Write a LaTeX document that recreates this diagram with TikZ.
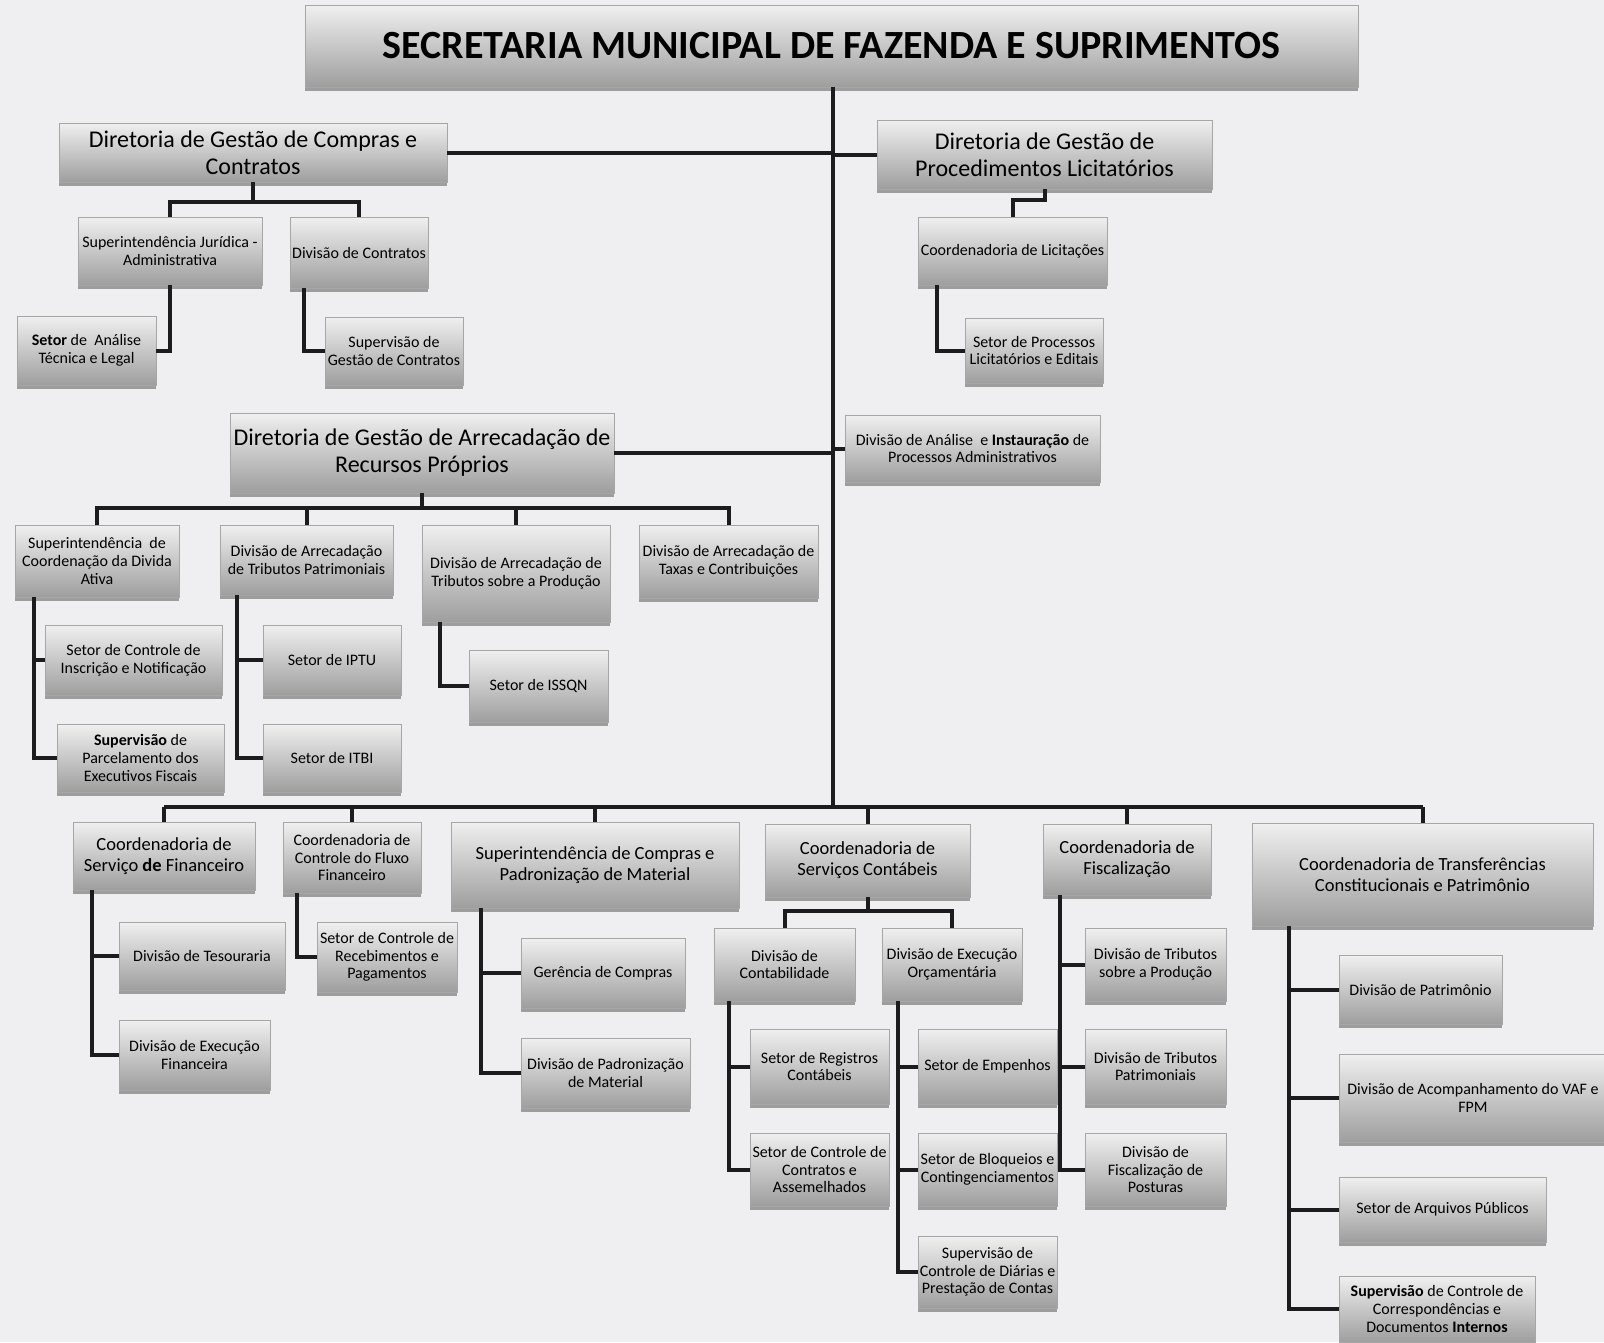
\documentclass[tikz,border=0pt]{standalone}
\usepackage{fontspec}
\setmainfont{Carlito}
\usetikzlibrary{calc,shadows}
\definecolor{paper}{RGB}{239,239,242}
\definecolor{wire}{RGB}{28,28,30}
\tikzset{
  orgbox/.style={rectangle, top color=white!94!black, bottom color=black!38, draw=black!35,
                 line width=0.6pt, align=center, inner sep=0pt,
                 drop shadow={shadow xshift=0pt, shadow yshift=-4pt, opacity=.5, fill=black!70}},
  titlebox/.style={orgbox, font=\fontsize{40}{44}\selectfont\bfseries},
  bigbox/.style={orgbox, font=\fontsize{24}{27}\selectfont},
  midbox/.style={orgbox, font=\fontsize{18.5}{21}\selectfont},
  smallbox/.style={orgbox, font=\fontsize{16}{17.7}\selectfont},
  link/.style={line width=4pt, wire},
}

\begin{document}
\begin{tikzpicture}[x=1pt, y=-1pt]
\useasboundingbox (0,0) rectangle (1604,1342);
\fill[paper] (0,0) rectangle (1604,1342);

% secretaria and trunk
\node[titlebox, minimum width=1053, minimum height=82] (sec) at (831.5,46) {SECRETARIA MUNICIPAL DE FAZENDA E SUPRIMENTOS};
\coordinate (bus) at (833,807);
\coordinate (busL) at (164,807);
\coordinate (busR) at (1423,807);

% upper branch
\node[bigbox, minimum width=388, minimum height=59] (dirCompras) at (253,152.5) {Diretoria de Gestão de Compras e\\Contratos};
\node[bigbox, minimum width=335, minimum height=69] (dirProc) at (1044.5,154.5) {Diretoria de Gestão de\\Procedimentos Licitatórios};
\node[smallbox, minimum width=184, minimum height=68] (supJur) at (170,251) {Superintendência Jurídica -\\Administrativa};
\node[smallbox, minimum width=138, minimum height=71] (divContr) at (359,252.5) {Divisão de Contratos};
\node[smallbox, minimum width=139, minimum height=69] (setorAnalise) at (86.5,350.5) {\textbf{Setor} de~ Análise\\Técnica e Legal};
\node[smallbox, minimum width=138, minimum height=68] (supGestao) at (394,351) {Supervisão de\\Gestão de Contratos};
\node[smallbox, minimum width=189, minimum height=68] (coordLic) at (1012.5,251) {Coordenadoria de Licitações};
\node[smallbox, minimum width=138, minimum height=65] (setorProc) at (1034,350.5) {Setor de Processos\\Licitatórios e Editais};
\node[smallbox, minimum width=255, minimum height=67] (divAnalise) at (972.5,448.5) {Divisão de Análise~ e \textbf{Instauração} de\\Processos Administrativos};

% arrecadacao
\node[bigbox, minimum width=384, minimum height=80] (dirArrec) at (422,453) {Diretoria de Gestão de Arrecadação de\\Recursos Próprios};
\node[smallbox, minimum width=164, minimum height=72] (supDivida) at (97,561) {Superintendência~ de\\Coordenação da Divida\\Ativa};
\node[smallbox, minimum width=173, minimum height=70] (divPatrim) at (306.5,560) {Divisão de Arrecadação\\de Tributos Patrimoniais};
\node[smallbox, minimum width=188, minimum height=97] (divProducao) at (516,573.5) {Divisão de Arrecadação de\\Tributos sobre a Produção};
\node[smallbox, minimum width=179, minimum height=73] (divTaxas) at (728.5,561.5) {Divisão de Arrecadação de\\Taxas e Contribuições};
\node[smallbox, minimum width=177, minimum height=70] (setorInscr) at (133.5,660) {Setor de Controle de\\Inscrição e Notificação};
\node[smallbox, minimum width=167, minimum height=68] (supParcel) at (140.5,758) {\textbf{Supervisão} de\\Parcelamento dos\\Executivos Fiscais};
\node[smallbox, minimum width=138, minimum height=70] (setorIPTU) at (332,660) {Setor de IPTU};
\node[smallbox, minimum width=138, minimum height=68] (setorITBI) at (332,758) {Setor de ITBI};
\node[smallbox, minimum width=139, minimum height=72] (setorISSQN) at (538.5,686) {Setor de ISSQN};

% lower row
\node[midbox, minimum width=182, minimum height=68] (coordFin) at (164,856) {Coordenadoria de\\Serviço \textbf{de} Financeiro};
\node[smallbox, minimum width=138, minimum height=71] (coordFluxo) at (352,857.5) {Coordenadoria de\\Controle do Fluxo\\Financeiro};
\node[midbox, minimum width=288, minimum height=86] (supCompras) at (595,865) {Superintendência de Compras e\\Padronização de Material};
\node[midbox, minimum width=205, minimum height=73] (coordCont) at (867.5,860.5) {Coordenadoria de\\Serviços Contábeis};
\node[midbox, minimum width=168, minimum height=71] (coordFisc) at (1127,859.5) {Coordenadoria de\\Fiscalização};
\node[midbox, minimum width=341, minimum height=103] (coordTransf) at (1422.5,874.5) {Coordenadoria de Transferências\\Constitucionais e Patrimônio};

\node[smallbox, minimum width=166, minimum height=68] (divTesour) at (202,956) {Divisão de Tesouraria};
\node[smallbox, minimum width=151, minimum height=70] (divExecFin) at (194.5,1055) {Divisão de Execução\\Financeira};
\node[smallbox, minimum width=140, minimum height=70] (setorReceb) at (387,957) {Setor de Controle de\\Recebimentos e\\Pagamentos};
\node[smallbox, minimum width=164, minimum height=70] (gerCompras) at (603,973) {Gerência de Compras};
\node[smallbox, minimum width=169, minimum height=70] (divPadron) at (605.5,1073) {Divisão de Padronização\\de Material};

\node[smallbox, minimum width=141, minimum height=73] (divContab) at (784.5,964.5) {Divisão de\\Contabilidade};
\node[smallbox, minimum width=140, minimum height=73] (divExecOrc) at (952,964.5) {Divisão de Execução\\Orçamentária};
\node[smallbox, minimum width=139, minimum height=75] (setorRegistros) at (819.5,1066.5) {Setor de Registros\\Contábeis};
\node[smallbox, minimum width=139, minimum height=73] (setorContratos) at (819.5,1169.5) {Setor de Controle de\\Contratos e\\Assemelhados};
\node[smallbox, minimum width=139, minimum height=75] (setorEmpenhos) at (987.5,1066.5) {Setor de Empenhos};
\node[smallbox, minimum width=139, minimum height=73] (setorBloqueios) at (987.5,1169.5) {Setor de Bloqueios e\\Contingenciamentos};
\node[smallbox, minimum width=139, minimum height=72] (supDiarias) at (987.5,1272) {Supervisão de\\Controle de Diárias e\\Prestação de Contas};

\node[smallbox, minimum width=141, minimum height=73] (divTribProd) at (1155.5,964.5) {Divisão de Tributos\\sobre a Produção};
\node[smallbox, minimum width=141, minimum height=75] (divTribPatr) at (1155.5,1066.5) {Divisão de Tributos\\Patrimoniais};
\node[smallbox, minimum width=141, minimum height=73] (divPosturas) at (1155.5,1169.5) {Divisão de\\Fiscalização de\\Posturas};

\node[smallbox, minimum width=163, minimum height=69] (divPatrimonio) at (1420.5,989.5) {Divisão de Patrimônio};
\node[smallbox, minimum width=268, minimum height=88] (divVAF) at (1473,1098) {Divisão de Acompanhamento do VAF e\\FPM};
\node[smallbox, minimum width=207, minimum height=65] (setorArquivos) at (1442.5,1209.5) {Setor de Arquivos Públicos};
\node[smallbox, minimum width=196, minimum height=66] (supCorresp) at (1437,1309) {\textbf{Supervisão} de Controle de\\Correspondências e\\Documentos \textbf{Internos}};

% connectors
\draw[link] (sec.south -| bus) -- (bus);
\draw[link] (busL) -- (busR);
\draw[link] (dirCompras.east) -- (dirCompras.east -| bus);
\draw[link] (dirProc.west) -- (dirProc.west -| bus);
\draw[link] (dirArrec.east) -- (dirArrec.east -| bus);
\draw[link] (divAnalise.west) -- (divAnalise.west -| bus);
\foreach \n in {coordFin,coordFluxo,supCompras,coordCont,coordFisc,coordTransf}
  \draw[link] (\n.north) -- (\n.north |- bus);

\draw[link] (dirCompras.south) -- ++(0,20) -| (supJur.north);
\draw[link] (dirCompras.south) -- ++(0,20) -| (divContr.north);
\draw[link] (supJur.south) |- (setorAnalise.east);
\draw[link] ($(divContr.south west)+(14,0)$) |- (supGestao.west);
\draw[link] (dirProc.south) -- ++(0,11) -| (coordLic.north);
\draw[link] ($(coordLic.south west)+(19,0)$) |- (setorProc.west);

\foreach \n in {supDivida,divPatrim,divProducao,divTaxas}
  \draw[link] (dirArrec.south) -- ++(0,15) -| (\n.north);
\foreach \n in {setorInscr,supParcel}
  \draw[link] ($(supDivida.south west)+(19,0)$) |- (\n.west);
\foreach \n in {setorIPTU,setorITBI}
  \draw[link] ($(divPatrim.south west)+(17,0)$) |- (\n.west);
\draw[link] ($(divProducao.south west)+(18,0)$) |- (setorISSQN.west);

\foreach \n in {divTesour,divExecFin}
  \draw[link] ($(coordFin.south west)+(19,0)$) |- (\n.west);
\draw[link] ($(coordFluxo.south west)+(14,0)$) |- (setorReceb.west);
\foreach \n in {gerCompras,divPadron}
  \draw[link] ($(supCompras.south west)+(30,0)$) |- (\n.west);
\foreach \n in {divContab,divExecOrc}
  \draw[link] (coordCont.south) -- ++(0,14) -| (\n.north);
\foreach \n in {setorRegistros,setorContratos}
  \draw[link] ($(divContab.south west)+(15,0)$) |- (\n.west);
\foreach \n in {setorEmpenhos,setorBloqueios,supDiarias}
  \draw[link] ($(divExecOrc.south west)+(16,0)$) |- (\n.west);
\foreach \n in {divTribProd,divTribPatr,divPosturas}
  \draw[link] ($(coordFisc.south west)+(17,0)$) |- (\n.west);
\foreach \n in {divPatrimonio,divVAF,setorArquivos,supCorresp}
  \draw[link] ($(coordTransf.south west)+(37,0)$) |- (\n.west);
\end{tikzpicture}
\end{document}
